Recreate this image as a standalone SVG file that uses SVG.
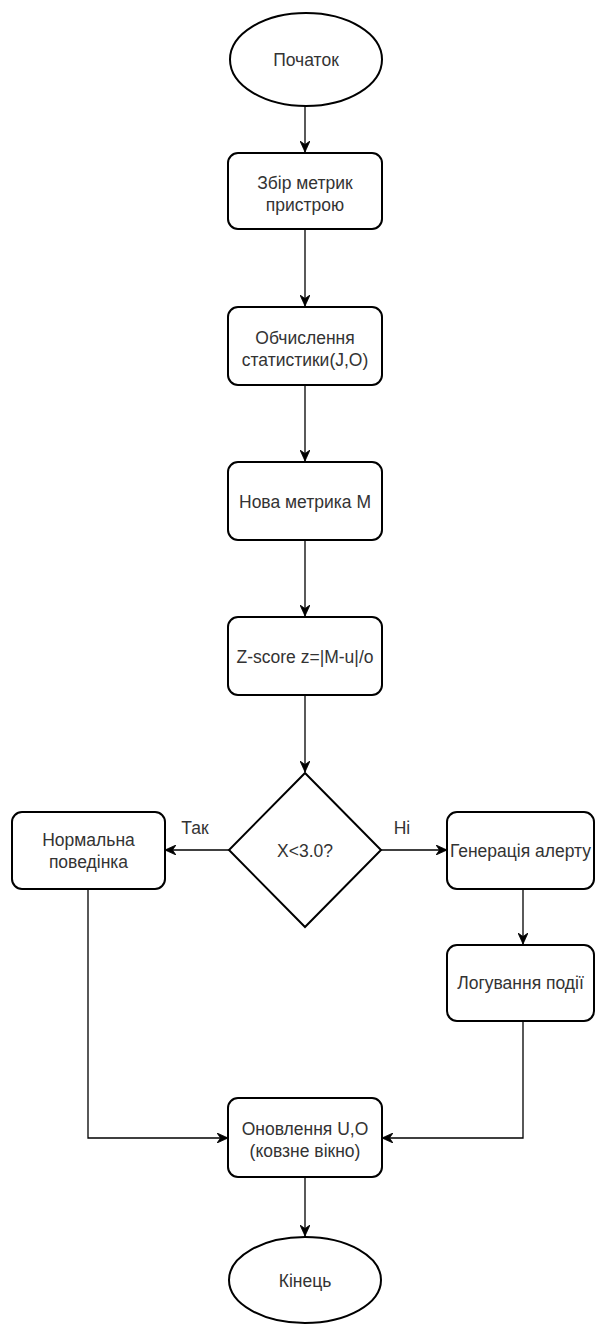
<svg xmlns="http://www.w3.org/2000/svg" width="595" height="1326" viewBox="0 0 595 1326">
  <style>
    .shape { fill: #ffffff; stroke: #000000; stroke-width: 2; }
    .edge { fill: none; stroke: #000000; stroke-width: 1.3; marker-end: url(#arrow); }
    .label { font-family: "Liberation Sans", Arial, sans-serif; font-size: 17.5px; fill: #333333; text-anchor: middle; }
  </style>
  <defs>
    <marker id="arrow" viewBox="0 0 11 10" markerWidth="11" markerHeight="10" refX="11" refY="5" orient="auto" markerUnits="userSpaceOnUse">
      <path d="M0,0 L11,5 L0,10 L3.5,5 Z" fill="#000000" stroke="#000000" stroke-width="0.8"/>
    </marker>
  </defs>
  <rect width="595" height="1326" fill="#ffffff"/>

  <!-- connectors -->
  <g id="connectors">
    <path class="edge" d="M305,106 L305,152"/>
    <path class="edge" d="M305,229 L305,306"/>
    <path class="edge" d="M305,385 L305,461"/>
    <path class="edge" d="M305,540 L305,616"/>
    <path class="edge" d="M305,695 L305,772"/>
    <path class="edge" d="M229,850 L165,850"/>
    <path class="edge" d="M381,850 L447,850"/>
    <path class="edge" d="M523,889 L523,944"/>
    <path class="edge" d="M523,1021 L523,1138 L382,1138"/>
    <path class="edge" d="M88,889 L88,1138 L228,1138"/>
    <path class="edge" d="M305,1177 L305,1236"/>
    <text class="label" x="195" y="834">Так</text>
    <text class="label" x="402" y="834">Ні</text>
  </g>

  <g id="start">
    <ellipse class="shape" cx="306" cy="59.5" rx="76" ry="46.5"/>
    <text class="label" x="306" y="66">Початок</text>
  </g>

  <g id="collect">
    <rect class="shape" x="228" y="153" width="154" height="76" rx="10"/>
    <text class="label" x="305" y="188.5">Збір метрик</text>
    <text class="label" x="305" y="210.5">пристрою</text>
  </g>

  <g id="stats">
    <rect class="shape" x="228" y="307" width="154" height="78" rx="10"/>
    <text class="label" x="305" y="343.5">Обчислення</text>
    <text class="label" x="305" y="365.5">статистики(J,O)</text>
  </g>

  <g id="metric">
    <rect class="shape" x="228" y="462" width="154" height="78" rx="10"/>
    <text class="label" x="305" y="507.5">Нова метрика М</text>
  </g>

  <g id="zscore">
    <rect class="shape" x="228" y="617" width="154" height="78" rx="10"/>
    <text class="label" x="305" y="662.5">Z-score z=|M-u|/o</text>
  </g>

  <g id="decision">
    <polygon class="shape" points="305,773 381,850 305,927 229,850"/>
    <text class="label" x="305" y="856.5">X&lt;3.0?</text>
  </g>

  <g id="normal">
    <rect class="shape" x="12" y="812" width="153" height="77" rx="10"/>
    <text class="label" x="88.5" y="846">Нормальна</text>
    <text class="label" x="88.5" y="868">поведінка</text>
  </g>

  <g id="alert">
    <rect class="shape" x="447" y="812" width="147" height="77" rx="10"/>
    <text class="label" x="520.5" y="857">Генерація алерту</text>
  </g>

  <g id="log">
    <rect class="shape" x="447" y="945" width="147" height="76" rx="10"/>
    <text class="label" x="520.5" y="989">Логування події</text>
  </g>

  <g id="update">
    <rect class="shape" x="228" y="1098" width="154" height="79" rx="10"/>
    <text class="label" x="305" y="1134.5">Оновлення U,O</text>
    <text class="label" x="305" y="1156.5">(ковзне вікно)</text>
  </g>

  <g id="end">
    <ellipse class="shape" cx="305" cy="1280" rx="76" ry="43"/>
    <text class="label" x="305" y="1286.5">Кінець</text>
  </g>
</svg>
